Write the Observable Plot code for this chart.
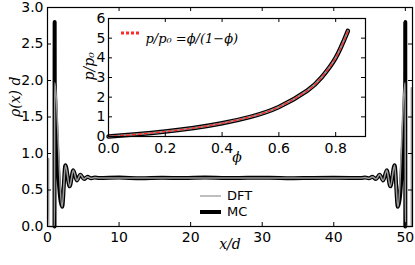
<!DOCTYPE html>
<html><head><meta charset="utf-8">
<script src="https://cdn.jsdelivr.net/npm/d3@7"></script>
<script src="https://cdn.jsdelivr.net/npm/@observablehq/plot@0.6"></script>
<style>
body{margin:0;background:#fff;}
#wrap{position:relative;width:415px;height:265px;font-family:"DejaVu Sans",sans-serif;overflow:hidden;}
#wrap > *{position:absolute;}
.lg{font-size:13px;line-height:13px;color:#000;}
</style></head><body><div id="wrap"></div>
<script>
// Main panel: density profile rho(x) d vs x/d
const xDFT = [0.15, 0.16, 0.98, 1.0, 2.05, 2.5, 3.1, 3.6, 4.1, 4.6, 5.1, 5.6, 6.1, 6.6, 7.2, 15, 25.5, 36, 43.8, 44.4, 44.9, 45.4, 45.9, 46.4, 46.9, 47.4, 47.9, 48.5, 48.95, 49.98, 50.0, 50.84, 50.85];
const rhoDFT = [0.93, 0, 0, 1.97, 0.27, 0.84, 0.55, 0.77, 0.63, 0.71, 0.65, 0.68, 0.66, 0.67, 0.665, 0.665, 0.665, 0.665, 0.665, 0.67, 0.66, 0.68, 0.65, 0.71, 0.63, 0.77, 0.55, 0.84, 0.27, 1.97, 0, 0, 1.9];
const xMC = [0.98, 1.0, 1.01, 2.05, 2.5, 3.1, 3.6, 4.1, 4.6, 5.1, 5.6, 6.1, 6.6, 7.2, 10, 13, 16, 19, 22, 25, 28, 31, 34, 37, 40, 43.8, 44.4, 44.9, 45.4, 45.9, 46.4, 46.9, 47.4, 47.9, 48.5, 48.95, 49.98, 49.99, 50.0];
const rhoMC = [0, 2.8, 1.97, 0.27, 0.84, 0.55, 0.77, 0.63, 0.71, 0.65, 0.68, 0.66, 0.67, 0.665, 0.67, 0.662, 0.668, 0.664, 0.67, 0.663, 0.667, 0.669, 0.662, 0.666, 0.668, 0.665, 0.67, 0.66, 0.68, 0.65, 0.71, 0.63, 0.77, 0.55, 0.84, 0.27, 1.97, 2.8, 0];
const xTicks = [0, 10, 20, 30, 40, 50];
const yTicks = [0, 0.5, 1, 1.5, 2, 2.5, 3];

// Inset: equation of state p/p0 vs phi
const phi = [0, 0.1, 0.2, 0.3, 0.4, 0.5, 0.6, 0.7, 0.75, 0.8, 0.843];
const pSim = [0, 0.11, 0.25, 0.43, 0.67, 1.0, 1.5, 2.33, 3.0, 4.0, 5.37];
const pTheory = [0, 0.11, 0.25, 0.43, 0.67, 1.0, 1.5, 2.33, 3.0, 4.0, 5.37];
const phiTicks = [0, 0.2, 0.4, 0.6, 0.8];
const pTicks = [0, 1, 2, 3, 4, 5, 6];

const wrap = document.getElementById("wrap");
const tk = 4;
const serif = "'DejaVu Serif', serif";

// ---- main plot
const mW = 415, mH = 265, mL = 47, mR = 3, mT = 7, mB = 39;
const miw = mW - mL - mR, mih = mH - mT - mB;
const dft = xDFT.map((x, i) => ({x, y: rhoDFT[i]}));
const mc = xMC.map((x, i) => ({x, y: rhoMC[i]}));
const main = Plot.plot({
  width: mW, height: mH, marginLeft: mL, marginRight: mR, marginTop: mT, marginBottom: mB,
  style: {fontFamily: "'DejaVu Sans', sans-serif", fontSize: "14px", background: "transparent", color: "#000", overflow: "visible"},
  x: {domain: [0, 51]},
  y: {domain: [0, 3]},
  marks: [
    Plot.line(mc, {x: "x", y: "y", stroke: "#000", strokeWidth: 4, curve: "monotone-x"}),
    Plot.line(dft, {x: "x", y: "y", stroke: "#999", strokeWidth: 1.6, curve: "monotone-x"}),
    Plot.tickX(xTicks, {x: d => d, insetTop: mih - tk, stroke: "#000"}),
    Plot.tickX(xTicks, {x: d => d, insetBottom: mih - tk, stroke: "#000"}),
    Plot.tickY(yTicks, {y: d => d, insetRight: miw - tk, stroke: "#000"}),
    Plot.tickY(yTicks, {y: d => d, insetLeft: miw - tk, stroke: "#000"}),
    Plot.axisX(xTicks, {tickSize: 0, tickPadding: 6, label: null, fontSize: 14}),
    Plot.axisY(yTicks, {tickSize: 0, tickPadding: 4, label: null, fontSize: 14, tickFormat: d3.format(".1f")}),
    Plot.frame({stroke: "#000", strokeWidth: 1.2}),
    Plot.text(["x/d"], {frameAnchor: "bottom", dy: 22, text: d => d, fontFamily: serif, fontStyle: "italic", fontSize: 14}),
    Plot.text(["ρ(x) d"], {frameAnchor: "left", dx: -32, rotate: -90, text: d => d, fontFamily: serif, fontStyle: "italic", fontSize: 14})
  ]
});
main.style.left = "0px"; main.style.top = "0px";
wrap.appendChild(main);

// ---- inset
const iL0 = 60, iW = 320, iH = 170, iL = 48, iR = 15, iT = 18, iB = 34;
const iiw = iW - iL - iR, iih = iH - iT - iB;
const sim = phi.map((f, i) => ({f, p: pSim[i]}));
const th = phi.map((f, i) => ({f, p: pTheory[i]}));
const inset = Plot.plot({
  width: iW, height: iH, marginLeft: iL, marginRight: iR, marginTop: iT, marginBottom: iB,
  style: {fontFamily: "'DejaVu Sans', sans-serif", fontSize: "14px", background: "transparent", color: "#000", overflow: "visible"},
  x: {domain: [0, 0.905]},
  y: {domain: [0, 6]},
  marks: [
    Plot.frame({fill: "#fff"}),
    Plot.line(sim, {x: "f", y: "p", stroke: "#000", strokeWidth: 4.5, curve: "natural"}),
    Plot.line(sim, {x: "f", y: "p", stroke: "#999", strokeWidth: 2, curve: "natural"}),
    Plot.line(th, {x: "f", y: "p", stroke: "#ff2a2a", strokeWidth: 1.4, strokeDasharray: "3,3", curve: "natural"}),
    Plot.tickX(phiTicks, {x: d => d, insetTop: iih - tk, stroke: "#000"}),
    Plot.tickX(phiTicks, {x: d => d, insetBottom: iih - tk, stroke: "#000"}),
    Plot.tickY(pTicks, {y: d => d, insetRight: iiw - tk, stroke: "#000"}),
    Plot.tickY(pTicks, {y: d => d, insetLeft: iiw - tk, stroke: "#000"}),
    Plot.axisX(phiTicks, {tickSize: 0, tickPadding: 7, label: null, fontSize: 14, tickFormat: d3.format(".1f")}),
    Plot.axisY(pTicks, {tickSize: 0, tickPadding: 3, label: null, fontSize: 14}),
    Plot.frame({stroke: "#000", strokeWidth: 1.2}),
    Plot.text(["ϕ"], {frameAnchor: "bottom", dy: 25, text: d => d, fontFamily: serif, fontStyle: "italic", fontSize: 14}),
    Plot.text(["p/p₀"], {frameAnchor: "left", dx: -19, dy: 3, rotate: -90, text: d => d, fontFamily: serif, fontStyle: "italic", fontSize: 14}),
    Plot.text(["p/p₀ =ϕ/(1−ϕ)"], {frameAnchor: "top-left", dx: 37, dy: 15, textAnchor: "start", text: d => d, fontFamily: serif, fontStyle: "italic", fontSize: 13})
  ]
});
inset.style.left = iL0 + "px"; inset.style.top = "0px";
wrap.appendChild(inset);

// ---- legends (overlays)
const ns = "http://www.w3.org/2000/svg";
function legendSvg(left, top, w, h, lines) {
  const s = document.createElementNS(ns, "svg");
  s.setAttribute("width", w); s.setAttribute("height", h);
  s.style.left = left + "px"; s.style.top = top + "px"; s.style.position = "absolute";
  for (const l of lines) {
    const e = document.createElementNS(ns, "line");
    e.setAttribute("x1", l.x1); e.setAttribute("x2", l.x2);
    e.setAttribute("y1", l.y); e.setAttribute("y2", l.y);
    e.setAttribute("stroke", l.stroke); e.setAttribute("stroke-width", l.w);
    if (l.dash) e.setAttribute("stroke-dasharray", l.dash);
    s.appendChild(e);
  }
  wrap.appendChild(s);
}
legendSvg(198, 188, 30, 30, [
  {x1: 2, x2: 23, y: 8, stroke: "#aaa", w: 1.5},
  {x1: 2, x2: 23, y: 24, stroke: "#000", w: 4}
]);
function label(txt, left, top) {
  const d = document.createElement("div");
  d.className = "lg"; d.textContent = txt;
  d.style.left = left + "px"; d.style.top = top + "px";
  wrap.appendChild(d);
}
label("DFT", 227, 189);
label("MC", 227, 205);
legendSvg(118, 28, 26, 10, [
  {x1: 3, x2: 22, y: 5, stroke: "#ff2a2a", w: 3, dash: "3,2"}
]);
</script></body></html>
